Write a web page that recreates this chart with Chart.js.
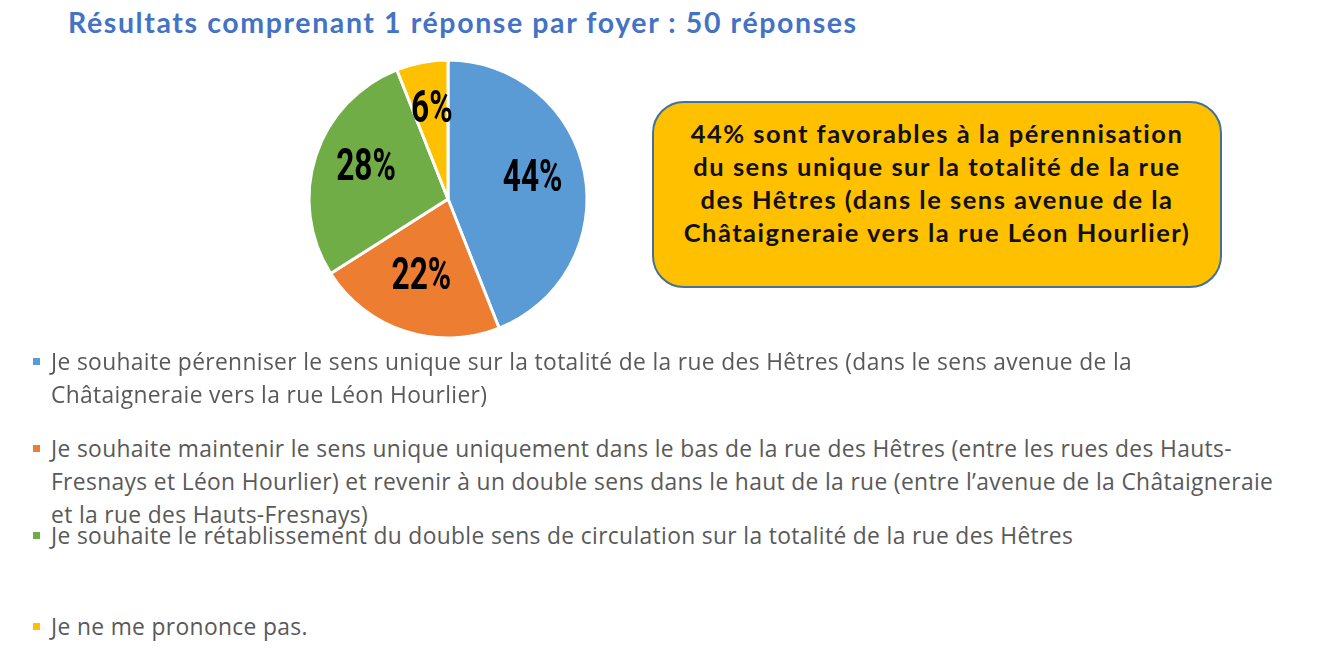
<!DOCTYPE html>
<html>
<head>
<meta charset="utf-8">
<script src="https://cdn.jsdelivr.net/npm/chart.js@4"></script>
<style>
  html, body { margin:0; padding:0; background:#fff; }
  #page { position:relative; width:1322px; height:652px; overflow:hidden; }
  #title { position:absolute; left:68px; top:6px; font-family:Lato, sans-serif; font-weight:700; font-size:28.5px; letter-spacing:1.6px; color:#4472C4; line-height:32px; white-space:nowrap; }
  #chartBox { position:absolute; left:298px; top:49px; width:300px; height:300px; }
  #callout { position:absolute; left:652px; top:101px; width:570px; height:187px; box-sizing:border-box; border:2px solid #41719C; border-radius:32px; background:#FFC000; text-align:center; font-family:Lato, sans-serif; font-weight:700; font-size:25.5px; letter-spacing:1.5px; line-height:33px; color:#111; padding-top:14px; }
  .lg { position:absolute; left:33px; font-family:"Open Sans", sans-serif; font-size:22.8px; letter-spacing:0.35px; line-height:33px; color:#595959; white-space:nowrap; }
  .lg .sw { position:absolute; left:0; top:13px; width:7px; height:7px; }
  .lg .tx { position:absolute; left:18px; top:0; }
</style>
</head>
<body>
<div id="page">
  <div id="title">Résultats comprenant 1 réponse par foyer : 50 réponses</div>
  <div id="chartBox"><canvas id="c" width="300" height="300"></canvas></div>
  <div id="callout">44% sont favorables à la pérennisation<br>du sens unique sur la totalité de la rue<br>des Hêtres (dans le sens avenue de la<br>Châtaigneraie vers la rue Léon Hourlier)</div>
  <div id="legend"></div>
</div>
<script>
// ---- data ----
const categories = [
  ["Je souhaite pérenniser le sens unique sur la totalité de la rue des Hêtres (dans le sens avenue de la", "Châtaigneraie vers la rue Léon Hourlier)"],
  ["Je souhaite maintenir le sens unique uniquement dans le bas de la rue des Hêtres (entre les rues des Hauts-", "Fresnays et Léon Hourlier) et revenir à un double sens dans le haut de la rue (entre l’avenue de la Châtaigneraie", "et la rue des Hauts-Fresnays)"],
  ["Je souhaite le rétablissement du double sens de circulation sur la totalité de la rue des Hêtres"],
  ["Je ne me prononce pas."]
];
const responses = [22, 11, 14, 3];
const colors = ["#5B9BD5", "#ED7D31", "#70AD47", "#FFC000"];

// ---- legend (HTML, wrapped lines as in source) ----
const legendTops = [345, 432, 519, 610];
const legendEl = document.getElementById('legend');
categories.forEach((lines, i) => {
  const d = document.createElement('div');
  d.className = 'lg';
  d.style.top = legendTops[i] + 'px';
  const sw = document.createElement('div');
  sw.className = 'sw';
  sw.style.background = colors[i];
  const tx = document.createElement('div');
  tx.className = 'tx';
  tx.innerHTML = lines.map(l => l.replace(/&/g,'&amp;').replace(/</g,'&lt;')).join('<br>');
  d.appendChild(sw); d.appendChild(tx);
  legendEl.appendChild(d);
});

// ---- percentage labels plugin ----
const pctLabels = {
  id: 'pctLabels',
  afterDatasetsDraw(chart) {
    const ctx = chart.ctx;
    const meta = chart.getDatasetMeta(0);
    const data = chart.data.datasets[0].data;
    const total = data.reduce((a, b) => a + b, 0);
    meta.data.forEach((arc, i) => {
      const p = arc.getProps(['x', 'y', 'startAngle', 'endAngle', 'outerRadius'], true);
      const mid = (p.startAngle + p.endAngle) / 2;
      const r = p.outerRadius * 0.62;
      const x = p.x + Math.cos(mid) * r;
      const y = p.y + Math.sin(mid) * r;
      const txt = Math.round(data[i] / total * 100) + '%';
      ctx.save();
      ctx.translate(x, y);
      ctx.scale(0.72, 1);
      ctx.font = 'bold 44px Roboto';
      ctx.fillStyle = '#000';
      ctx.textAlign = 'center';
      ctx.textBaseline = 'middle';
      ctx.fillText(txt, 0, -3);
      ctx.restore();
    });
  }
};

new Chart(document.getElementById('c'), {
  type: 'pie',
  data: {
    labels: categories.map(l => l.join(' ')),
    datasets: [{
      data: responses,
      backgroundColor: colors,
      borderColor: '#ffffff',
      borderWidth: 3,
      hoverOffset: 0
    }]
  },
  options: {
    responsive: false,
    animation: false,
    radius: 139,
    layout: { padding: 0 },
    plugins: { legend: { display: false }, tooltip: { enabled: false } }
  },
  plugins: [pctLabels]
});
</script>
</body>
</html>
